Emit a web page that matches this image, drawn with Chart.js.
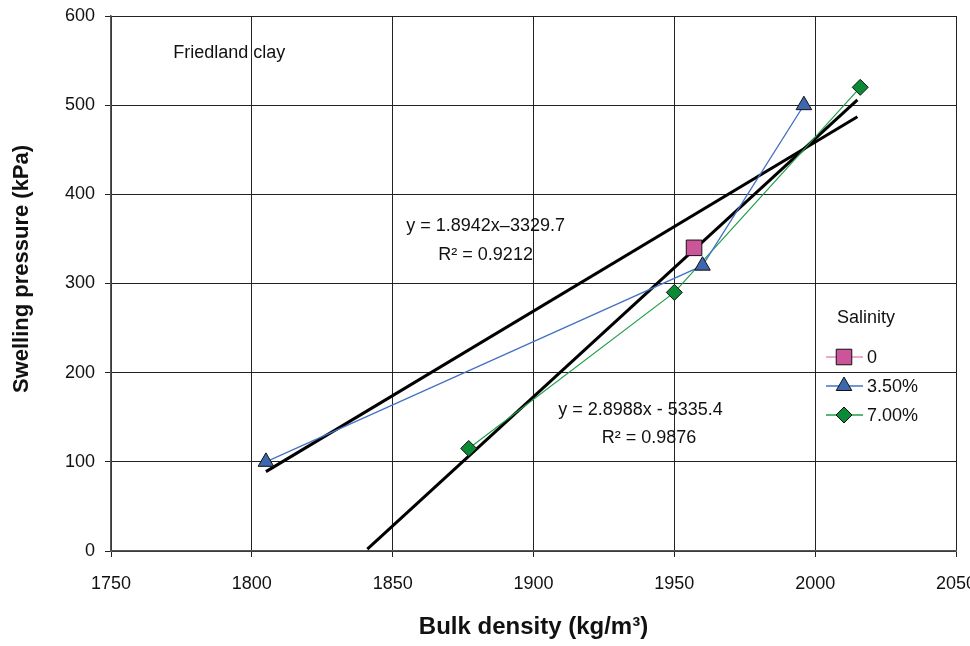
<!DOCTYPE html>
<html lang="en">
<head>
    <meta charset="UTF-8">
    <title>Swelling pressure vs bulk density</title>
    <script src="https://cdn.jsdelivr.net/npm/chart.js"></script>
    <style>
        body { margin: 0; background: #fff; }
        #wrap { width: 970px; height: 646px; }
    </style>
</head>
<body>
    <div id="wrap"><canvas id="swellChart" width="970" height="646"></canvas></div>

    <script>
        // values
        const salinity0X = [1957];
        const salinity0Y = [340];
        const salinity35X = [1805, 1960, 1996];
        const salinity35Y = [100, 320, 500];
        const salinity7X = [1877, 1950, 2016];
        const salinity7Y = [115, 290, 520];
        const trend1X = [1805, 2015];
        const trend1Y = [89, 487];
        const trend2X = [1841, 2015];
        const trend2Y = [2, 506];
        const seriesLabels = ['0', '3.50%', '7.00%'];

        const pts = (xs, ys) => xs.map((x, i) => ({ x: x, y: ys[i] }));
        const FONT = '"Liberation Sans", Arial, sans-serif';

        // text notes placed in data units
        const notes = [
            { text: 'Friedland clay', x: 1792, y: 558 },
            { text: 'y = 1.8942x\u20133329.7', x: 1883, y: 365 },
            { text: 'R\u00b2 = 0.9212', x: 1883, y: 332 },
            { text: 'y = 2.8988x - 5335.4', x: 1938, y: 158 },
            { text: 'R\u00b2 = 0.9876', x: 1941, y: 127 }
        ];

        const notesPlugin = {
            id: 'notes',
            afterDatasetsDraw(chart) {
                const ctx = chart.ctx;
                const xs = chart.scales.x, ys = chart.scales.y;
                ctx.save();
                ctx.fillStyle = '#111';
                ctx.font = '18px ' + FONT;
                ctx.textAlign = 'center';
                ctx.textBaseline = 'middle';
                notes.forEach(n => {
                    ctx.fillText(n.text, xs.getPixelForValue(n.x), ys.getPixelForValue(n.y));
                });

                // y axis title, sits a little above the middle like the original
                ctx.save();
                ctx.translate(22, 269);
                ctx.rotate(-Math.PI / 2);
                ctx.font = 'bold 22px ' + FONT;
                ctx.fillText('Swelling pressure (kPa)', 0, 0);
                ctx.restore();

                // legend box inside the plot
                const lx = chart.chartArea.right - 130;
                let ly = 318;
                ctx.textAlign = 'left';
                ctx.fillText('Salinity', lx + 11, ly);
                ly += 39;
                [0, 1, 2].forEach(i => {
                    const ds = chart.data.datasets[i];
                    ctx.strokeStyle = ds.borderColor;
                    ctx.lineWidth = 1.5;
                    ctx.beginPath();
                    ctx.moveTo(lx, ly);
                    ctx.lineTo(lx + 37, ly);
                    ctx.stroke();
                    ctx.fillStyle = ds.pointBackgroundColor;
                    ctx.strokeStyle = '#111';
                    ctx.lineWidth = 1;
                    Chart.helpers.drawPoint(ctx, {
                        pointStyle: ds.pointStyle,
                        radius: ds.pointRadius,
                        borderWidth: 1
                    }, lx + 18, ly);
                    ctx.fillStyle = '#111';
                    ctx.fillText(seriesLabels[i], lx + 41, ly + 1);
                    ly += 29;
                });
                ctx.restore();
            }
        };

        const plainTick = v => String(v);

        const ctx = document.getElementById('swellChart').getContext('2d');
        new Chart(ctx, {
            type: 'scatter',
            data: {
                datasets: [
                    {
                        label: seriesLabels[0],
                        data: pts(salinity0X, salinity0Y),
                        showLine: false,
                        borderColor: '#e58fbf',
                        pointStyle: 'rect',
                        pointRadius: 11,
                        pointBackgroundColor: '#cc5599',
                        pointBorderColor: '#111',
                        pointBorderWidth: 1,
                        order: 1
                    },
                    {
                        label: seriesLabels[1],
                        data: pts(salinity35X, salinity35Y),
                        showLine: true,
                        borderColor: '#4472c4',
                        borderWidth: 1.2,
                        pointStyle: 'triangle',
                        pointRadius: 9,
                        pointBackgroundColor: '#3d68b0',
                        pointBorderColor: '#111',
                        pointBorderWidth: 1,
                        order: 1
                    },
                    {
                        label: seriesLabels[2],
                        data: pts(salinity7X, salinity7Y),
                        showLine: true,
                        borderColor: '#1f9e45',
                        borderWidth: 1.2,
                        pointStyle: 'rectRot',
                        pointRadius: 8,
                        pointBackgroundColor: '#0b8a36',
                        pointBorderColor: '#111',
                        pointBorderWidth: 1,
                        order: 1
                    },
                    {
                        label: 'trend 1',
                        data: pts(trend1X, trend1Y),
                        showLine: true,
                        borderColor: '#000',
                        borderWidth: 3,
                        pointRadius: 0,
                        order: 2
                    },
                    {
                        label: 'trend 2',
                        data: pts(trend2X, trend2Y),
                        showLine: true,
                        borderColor: '#000',
                        borderWidth: 3,
                        pointRadius: 0,
                        order: 2
                    }
                ]
            },
            options: {
                responsive: false,
                animation: false,
                layout: { padding: { top: 16, right: 14, left: 0, bottom: 0 } },
                plugins: {
                    legend: { display: false },
                    tooltip: { enabled: false }
                },
                scales: {
                    x: {
                        type: 'linear',
                        min: 1750,
                        max: 2050,
                        ticks: { stepSize: 50, color: '#111', padding: 16, callback: plainTick, font: { family: FONT, size: 18 } },
                        grid: { color: '#222', lineWidth: 1, tickLength: 6, drawTicks: true },
                        border: { color: '#555', width: 1.5 },
                        title: {
                            display: true,
                            text: 'Bulk density (kg/m\u00b3)',
                            color: '#111',
                            font: { family: FONT, size: 24, weight: 'bold' },
                            padding: { top: 0, bottom: 4 }
                        },
                        afterFit(scale) {
                            scale.height = 95;
                            scale.paddingLeft = 0;
                            scale.paddingRight = 0;
                        }
                    },
                    y: {
                        min: 0,
                        max: 600,
                        ticks: { stepSize: 100, color: '#111', padding: 10, callback: plainTick, font: { family: FONT, size: 18 } },
                        grid: { color: '#222', lineWidth: 1, tickLength: 6, drawTicks: true },
                        border: { color: '#555', width: 1.5 },
                        afterFit(scale) {
                            scale.width = 111;
                            scale.paddingTop = 0;
                            scale.paddingBottom = 0;
                        }
                    }
                }
            },
            plugins: [notesPlugin]
        });
    </script>
</body>
</html>
